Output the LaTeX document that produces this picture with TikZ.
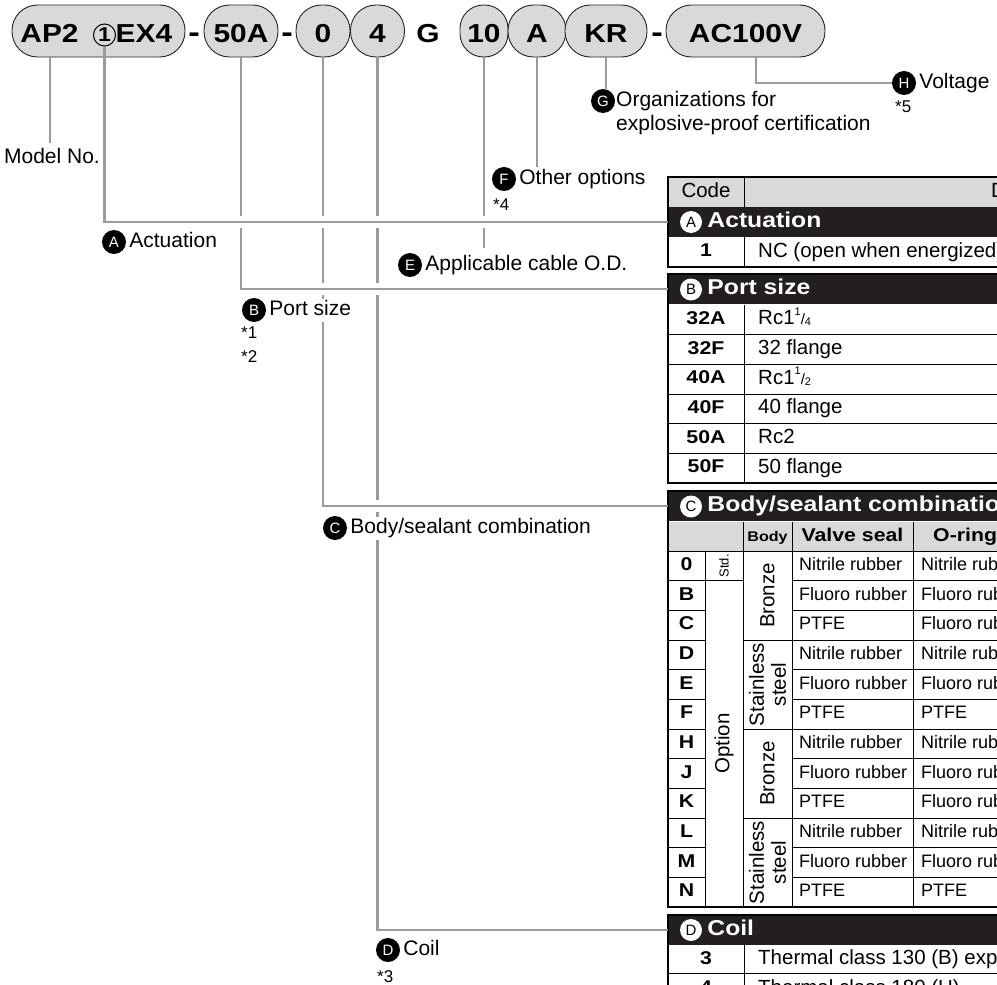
\documentclass[tikz,border=0pt]{standalone}
\usepackage{fontspec}
\setmainfont{Liberation Sans}[BoldFeatures={FakeStretch=1.15}]
\usepackage{tikz}
\usetikzlibrary{
    positioning
}

\definecolor{barblack}{RGB}{35,31,32}
\definecolor{cellgray}{RGB}{217,217,217}
\definecolor{leadgray}{RGB}{155,155,155}

\newcommand{\frc}[2]{%
    \raisebox{0.45em}{\fontsize{11}{11}\selectfont #1}%
    {\fontsize{15}{15}\selectfont /}%
    \raisebox{-0.05em}{\fontsize{11}{11}\selectfont #2}}

\tikzset{
    codeoval/.style={
        draw=black!85, line width=0.9pt, fill=cellgray,
        rounded corners=25.5pt, minimum height=52pt,
        inner sep=0pt, text height=22pt, text depth=0pt,
        font=\fontsize{26}{26}\selectfont\bfseries
    },
    codetext/.style={
        inner sep=0pt, text height=22pt, text depth=0pt,
        font=\fontsize{26}{26}\selectfont\bfseries
    },
    leadline/.style={
        draw=leadgray, line width=2.6pt
    },
    haloline/.style={
        draw=white, line width=12pt
    },
    ldot/.style={
        circle, fill=black, text=white, minimum size=24pt, inner sep=0pt,
        font=\fontsize{15}{15}\selectfont
    },
    tdot/.style={
        circle, fill=white, text=black, minimum size=22pt, inner sep=0pt,
        font=\fontsize{15}{15}\selectfont
    },
    lbltext/.style={
        fill=white, inner sep=2pt, text height=15pt, text depth=4pt,
        font=\fontsize{21}{23}\selectfont
    },
    notetext/.style={
        anchor=west, inner sep=0pt, font=\fontsize{17}{17}\selectfont
    },
    hbar/.style={
        anchor=north west, fill=barblack, minimum width=440pt,
        minimum height=30pt, inner sep=0pt, outer sep=0pt
    },
    htext/.style={
        text=white, inner sep=0pt, text height=15pt, text depth=4.5pt,
        font=\fontsize{21.5}{21.5}\selectfont\bfseries
    },
    celltext/.style={
        anchor=west, inner sep=0pt, text height=14pt, text depth=4pt,
        font=\fontsize{20.5}{20.5}\selectfont
    },
    smallcell/.style={
        celltext, text height=13.5pt,
        font=\fontsize{18}{18}\selectfont
    },
    keytext/.style={
        inner sep=0pt, text height=13.5pt, text depth=4pt,
        font=\fontsize{18.5}{18.5}\selectfont\bfseries
    },
    turned/.style={
        rotate=90, inner sep=0pt, align=center,
        font=\fontsize{20.5}{22}\selectfont
    },
    tframe/.style={draw=black, line width=2.4pt},
    trule/.style={draw=black, line width=0.9pt}
}

\begin{document}
\begin{tikzpicture}[
    x=1pt,
    y=-1pt
]
    \useasboundingbox (0,0) rectangle (997,985);
    \clip (0,0) rectangle (997,985);

    % Codigo del modelo
    \node[codeoval, minimum width=173pt] (main) at (98.5,31) {};
    \node[codetext] (ap)  at (49.5,31) {AP2};
    \node[circle, draw, line width=1pt, minimum size=22pt, inner sep=0pt,
          font=\fontsize{20}{20}\selectfont\bfseries] (one) at (104.5,35) {1};
    \node[codetext] (ex)  at (144,31) {EX4};
    \node[codetext, font=\fontsize{30}{30}\selectfont\bfseries] (dsa) at (194,31) {-};
    \node[codeoval, minimum width=74pt]  (p50A) at (241,31)   {50A};
    \node[codetext, font=\fontsize{30}{30}\selectfont\bfseries] (dsb) at (287,31) {-};
    \node[codeoval, minimum width=54pt]  (c0)   at (323,31)   {0};
    \node[codeoval, minimum width=54pt]  (c4)   at (377.5,31) {4};
    \node[codetext] (gg)  at (428,31) {G};
    \node[codeoval, minimum width=48pt, rounded corners=23.5pt] (c10) at (484,31) {10};
    \node[codeoval, minimum width=58pt]  (cA)   at (537,31)   {A};
    \node[codeoval, minimum width=82pt]  (cKR)  at (606,31)   {KR};
    \node[codetext, font=\fontsize{30}{30}\selectfont\bfseries] (dsc) at (657,31) {-};
    \node[codeoval, minimum width=159pt] (cV)   at (745.5,31) {AC100V};

    % Tabla: cabecera y A
    \fill[cellgray] (668,177) rectangle (1100,207);
    \node[celltext, anchor=center] (hcode) at (706,192) {Code};
    \node[celltext] (hdesc) at (991,192) {Description};
    \node[hbar] (rowA) at (668,207) {};
    \node[tdot] (wA) at (691,222) {A};
    \node[htext, right=5pt of wA] (hA) {Actuation};
    \node[keytext] (kA) at (706,252) {1};
    \node[celltext] (dA) at (758,252) {NC (open when energized)};
    \draw[trule] (744,177) -- (744,207) (744,237) -- (744,267);
    \draw[tframe] (668,177) rectangle (1100,267);

    % Tabla: B
    \node[hbar] (rowB) at (668,274) {};
    \node[tdot] (wB) at (691,289.5) {B};
    \node[htext, right=5pt of wB] (hB) {Port size};
    \foreach \k/\d [count=\i from 0] in {32A/{Rc1\frc{1}{4}}, 32F/32 flange,
        40A/{Rc1\frc{1}{2}}, 40F/40 flange, 50A/Rc2, 50F/50 flange} {
        \node[keytext]  (kB\i) at (706,{319.8+29.67*\i}) {\k};
        \node[celltext] (dB\i) at (758,{319.8+29.67*\i}) {\d};
    }
    \foreach \i in {1,...,5}
        \draw[trule] (668,{305+29.67*\i}) -- (1100,{305+29.67*\i});
    \draw[trule] (744,305) -- (744,483);
    \draw[tframe] (668,274) rectangle (1100,483);

    % Tabla: C
    \node[hbar] (rowC) at (668,491) {};
    \node[tdot] (wC) at (691,506.5) {C};
    \node[htext, right=5pt of wC] (hC) {Body/sealant combination};
    \fill[cellgray] (668,522) rectangle (1100,551);
    \node[keytext, font=\fontsize{14}{14}\selectfont\bfseries] (hbody) at (767.5,536.5) {Body};
    \node[keytext] (hvalve) at (852.5,536.5) {Valve seal};
    \node[keytext, anchor=west] (horing) at (933,536.5) {O-ring};
    \foreach \k/\v/\o [count=\i from 0] in {
        0/Nitrile rubber/Nitrile rubber, B/Fluoro rubber/Fluoro rubber,
        C/PTFE/Fluoro rubber, D/Nitrile rubber/Nitrile rubber,
        E/Fluoro rubber/Fluoro rubber, F/PTFE/PTFE,
        H/Nitrile rubber/Nitrile rubber, J/Fluoro rubber/Fluoro rubber,
        K/PTFE/Fluoro rubber, L/Nitrile rubber/Nitrile rubber,
        M/Fluoro rubber/Fluoro rubber, N/PTFE/PTFE} {
        \node[keytext]   (kC\i) at (686.5,{565.8+29.67*\i}) {\k};
        \node[smallcell] (vC\i) at (799,{565.8+29.67*\i}) {\v};
        \node[smallcell] (oC\i) at (921,{565.8+29.67*\i}) {\o};
    }
    \foreach \i in {1,...,11} {
        \draw[trule] (668,{551+29.67*\i}) -- (705,{551+29.67*\i});
        \draw[trule] (792,{551+29.67*\i}) -- (1100,{551+29.67*\i});
    }
    \draw[trule] (705,580.7) -- (743,580.7);
    \foreach \i in {3,6,9}
        \draw[trule] (743,{551+29.67*\i}) -- (792,{551+29.67*\i});
    \draw[trule] (668,551) -- (1100,551);
    \draw[trule] (705,551) -- (705,907) (743,522) -- (743,907)
                 (792,522) -- (792,907) (913,522) -- (913,907);
    \node[turned, font=\fontsize{13}{13}\selectfont] (tstd) at (724,565.8) {Std.};
    \node[turned] (topt) at (724,743.5) {Option};
    \node[turned] (tbr1) at (767.5,595.5) {Bronze};
    \node[turned] (tss1) at (767.5,684.5) {Stainless\\steel};
    \node[turned] (tbr2) at (767.5,773.5) {Bronze};
    \node[turned] (tss2) at (767.5,862.5) {Stainless\\steel};
    \draw[tframe] (668,491) rectangle (1100,907);

    % Tabla: D
    \node[hbar] (rowD) at (668,915) {};
    \node[tdot] (wD) at (691,930) {D};
    \node[htext, right=5pt of wD] (hD) {Coil};
    \node[keytext]  (kD0) at (706,959.5) {3};
    \node[celltext] (dD0) at (758,959.5) {Thermal class 130 (B) exp};
    \node[keytext]  (kD1) at (706,989) {4};
    \node[celltext] (dD1) at (758,989) {Thermal class 180 (H)};
    \draw[trule] (744,945) -- (744,1010) (668,973) -- (1100,973);
    \draw[tframe] (668,915) rectangle (1100,1010);

    % Etiquetas
    \node[ldot] (dA) at (114,242) {A};
    \node[ldot] (dB) at (254,310) {B};
    \node[ldot] (dC) at (335,528) {C};
    \node[ldot] (dD) at (388,950) {D};
    \node[ldot] (dE) at (410,265) {E};
    \node[ldot] (dF) at (504,179) {F};
    \node[ldot] (dG) at (603,101) {G};
    \node[ldot] (dH) at (904,83)  {H};

    % Lineas guia
    \draw[leadline] (c4.south) |- (rowD.west);
    \draw[haloline] (c0.south |- rowC.west) -- ([xshift=-2pt]rowC.west);
    \draw[leadline] (c0.south) |- (rowC.west);
    \draw[haloline] (p50A.south |- rowB.west) -- ([xshift=-2pt]rowB.west);
    \draw[leadline] (p50A.south) |- (rowB.west);
    \draw[leadline] (c10.south) -- (c10.south |- 0,248);
    \draw[haloline] (one.south |- rowA.west) -- ([xshift=-2pt]rowA.west);
    \draw[leadline] (one.south) |- (rowA.west);
    \draw[leadline] (cA.south) -- (cA.south |- dF.north);
    \draw[leadline] (cKR.south) -- (cKR.south |- dG.north);
    \draw[leadline] ([xshift=10.5pt]cV.south) |- (dH.west);
    \draw[leadline] (main.south -| 50,0) -- (50,143);

    % Textos de etiquetas
    \node[lbltext, anchor=center] (lM) at (52,158) {Model No.};
    \node[lbltext, right=1pt of dA] (lA) {Actuation};
    \node[lbltext, right=1pt of dB] (lB) {Port size};
    \node[lbltext, right=1pt of dC] (lC) {Body/sealant combination};
    \node[lbltext, right=1pt of dD] (lD) {Coil};
    \node[lbltext, right=1pt of dE] (lE) {Applicable cable O.D.};
    \node[lbltext, right=1pt of dF] (lF) {Other options};
    \node[lbltext, right=1pt of dH] (lH) {Voltage};
    \node[anchor=north west, align=left, inner sep=1pt,
          font=\fontsize{21}{24}\selectfont] (lG) at (615,90)
          {Organizations for\\explosive-proof certification};
    \node[notetext] (n1) at (241,333) {*1};
    \node[notetext] (n2) at (241,357) {*2};
    \node[notetext] (n3) at (377,977) {*3};
    \node[notetext] (n4) at (493,205) {*4};
    \node[notetext] (n5) at (895,107) {*5};

\end{tikzpicture}
\end{document}
